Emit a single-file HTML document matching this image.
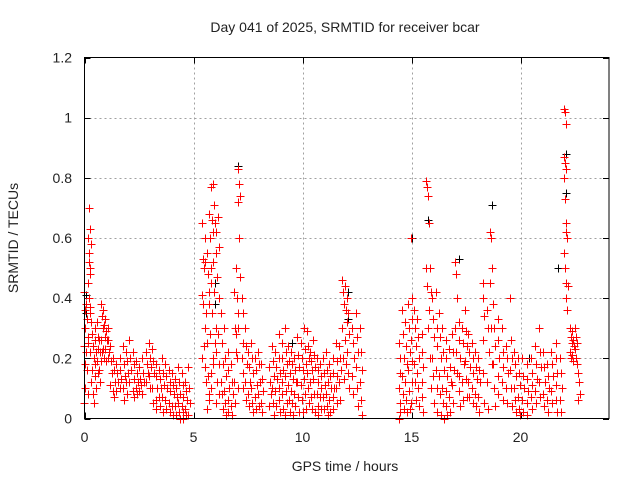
<!DOCTYPE html>
<html><head><meta charset="utf-8"><style>
html,body{margin:0;padding:0;background:#fff;}
svg{display:block;font-family:"Liberation Sans",Arial,sans-serif;}
</style></head><body>
<svg id="chart" width="640" height="480" viewBox="0 0 640 480" xmlns="http://www.w3.org/2000/svg">
<rect width="640" height="480" fill="#fff"/>
<text x="345" y="32" font-size="14" text-anchor="middle" fill="#222">Day 041 of 2025, SRMTID for receiver bcar</text>
<text transform="translate(18,238) rotate(-90)" font-size="14" text-anchor="middle" fill="#222">SRMTID / TECUs</text>
<text x="345" y="471" font-size="14" text-anchor="middle" fill="#222">GPS time / hours</text>
<g id="grid"></g>
<g id="ticks"></g>
<g id="black"></g>
<g id="red"></g>
<rect x="84.5" y="57.5" width="524.5" height="361" fill="none" stroke="#000" stroke-width="1"/>
</svg>
<script>
const xTicks = [0,5,10,15,20];
const yTicks = [0,0.2,0.4,0.6,0.8,1,1.2];
const yTickLabels = ["0","0.2","0.4","0.6","0.8","1","1.2"];
const redTimes = [0.0,0.1,0.2,0.25,0.3,0.4,0.5,0.6,0.7,0.8,0.9,1.0,1.1,1.2,1.35,1.5,1.65,1.8,1.95,2.1,2.25,2.4,2.55,2.7,2.85,3.0,3.15,3.3,3.45,3.6,3.75,3.9,4.05,4.2,4.35,4.5,4.65,4.8,
5.45,5.55,5.65,5.75,5.85,5.95,6.05,6.15,6.3,6.45,6.6,6.75,6.9,7.0,7.1,7.25,7.4,7.55,7.7,7.85,8.0,8.15,
8.5,8.65,8.79,8.94,9.08,9.23,9.37,9.52,9.67,9.81,9.96,10.1,10.25,10.4,10.54,10.69,10.83,10.98,11.12,11.27,11.42,11.56,11.71,11.85,12.0,12.1,12.3,12.5,12.7,
14.45,14.6,14.75,14.9,15.0,15.15,15.3,15.5,15.7,
15.85,16.0,16.15,16.3,16.45,16.6,16.75,16.9,17.05,17.2,17.35,17.5,17.65,17.8,17.95,18.1,18.3,18.5,18.65,
18.8,18.99,19.18,19.37,19.56,19.75,19.94,20.13,20.32,20.51,20.7,20.89,21.08,21.27,21.46,21.65,21.85,
22.05,22.15,22.3,22.4,22.55,22.7];
const redValues = [
[0.42,0.36,0.3,0.24,0.18,0.1,0.05],[0.38,0.33,0.27,0.22,0.16,0.08],[0.6,0.55,0.5,0.45,0.4,0.35,0.25],[0.7,0.63,0.58,0.52,0.37],[0.48,0.32,0.28,0.22,0.12],
[0.28,0.24,0.2,0.16,0.08,0.05],[0.3,0.26,0.22,0.18,0.14,0.1],[0.32,0.27,0.23,0.19,0.15],[0.26,0.22,0.19,0.16,0.12],[0.38,0.34,0.3,0.26,0.22],
[0.36,0.31,0.27,0.23,0.2],[0.33,0.29,0.26,0.23,0.19],[0.3,0.26,0.22,0.2],[0.24,0.19,0.15,0.11],[0.2,0.16,0.12,0.09,0.07],
[0.18,0.15,0.12,0.09],[0.2,0.16,0.13,0.1],[0.24,0.18,0.14,0.1,0.06],[0.22,0.19,0.15,0.12,0.08],[0.26,0.2,0.16,0.12],
[0.22,0.18,0.13,0.09,0.07],[0.19,0.15,0.12,0.1,0.08],[0.17,0.13,0.11,0.09],[0.2,0.15,0.12,0.08],[0.22,0.18,0.15,0.12],
[0.25,0.2,0.17,0.14,0.1],[0.23,0.19,0.15,0.1,0.05],[0.18,0.14,0.1,0.06,0.03],[0.16,0.13,0.1,0.07,0.04],[0.2,0.15,0.11,0.07,0.02],
[0.18,0.14,0.1,0.06,0.03],[0.16,0.12,0.09,0.05,0.02],[0.15,0.11,0.08,0.04,0.01],[0.13,0.1,0.07,0.04,0.01],[0.17,0.12,0.08,0.05,0.02,0.0],
[0.15,0.11,0.07,0.04,0.02,0.0],[0.12,0.09,0.06,0.03,0.01],[0.17,0.1,0.05,0.01],
[0.65,0.53,0.5,0.41,0.38,0.24,0.2],[0.6,0.52,0.35,0.3,0.17,0.12],[0.55,0.48,0.42,0.25,0.14,0.06,0.03],[0.68,0.6,0.5,0.38,0.28,0.15,0.08],
[0.77,0.66,0.62,0.45,0.35,0.2,0.1],[0.78,0.71,0.65,0.52,0.42,0.25,0.18],[0.62,0.55,0.47,0.3,0.22,0.12,0.05],[0.67,0.57,0.4,0.28,0.18,0.08],
[0.35,0.25,0.18,0.12,0.08,0.03],[0.3,0.2,0.14,0.09,0.05,0.01],[0.22,0.16,0.1,0.06,0.02],[0.18,0.12,0.08,0.04,0.01],[0.42,0.3,0.22,0.12,0.05],
[0.5,0.4,0.35,0.28,0.2,0.1],[0.83,0.78,0.74,0.72,0.6,0.47,0.3],[0.4,0.35,0.25,0.2,0.15,0.1],[0.3,0.24,0.18,0.12,0.06],[0.22,0.17,0.12,0.08,0.04],
[0.25,0.2,0.15,0.1,0.05,0.02],[0.2,0.16,0.11,0.07,0.03],[0.22,0.18,0.12,0.08,0.04],[0.18,0.13,0.09,0.05,0.02],
[0.17,0.12,0.08,0.04],[0.24,0.19,0.14,0.1,0.05,0.01],[0.22,0.17,0.13,0.09,0.04],[0.28,0.2,0.15,0.1,0.06,0.02],[0.25,0.2,0.16,0.12,0.08,0.03],
[0.3,0.22,0.18,0.14,0.09,0.05,0.01],[0.24,0.19,0.15,0.11,0.06,0.02],[0.22,0.18,0.13,0.09,0.05,0.01],[0.2,0.16,0.12,0.08,0.04],[0.27,0.21,0.17,0.12,0.07,0.02],
[0.25,0.2,0.16,0.11,0.06,0.02],[0.3,0.23,0.18,0.13,0.08,0.03],[0.29,0.24,0.2,0.15,0.1,0.05],[0.22,0.19,0.16,0.12,0.07,0.03],[0.26,0.21,0.17,0.13,0.08,0.02],
[0.2,0.16,0.12,0.08,0.04,0.01],[0.18,0.14,0.1,0.07,0.03],[0.2,0.15,0.11,0.07,0.03],[0.22,0.16,0.12,0.08,0.04,0.01],[0.18,0.14,0.1,0.06,0.02],
[0.2,0.15,0.1,0.07,0.03],[0.25,0.19,0.14,0.1,0.05],[0.24,0.2,0.16,0.12,0.06],[0.46,0.42,0.38,0.3,0.2,0.13],[0.44,0.36,0.32,0.26,0.18],
[0.4,0.35,0.28,0.22,0.15,0.1],[0.3,0.25,0.2,0.14,0.08],[0.35,0.27,0.22,0.17,0.1,0.04],[0.3,0.22,0.16,0.12,0.06,0.01],
[0.25,0.2,0.15,0.1,0.05,0.02,0.0],[0.36,0.28,0.2,0.14,0.08,0.03],[0.32,0.24,0.18,0.12,0.06,0.02],[0.38,0.3,0.22,0.16,0.09,0.03],[0.6,0.4,0.33,0.26,0.19,0.12,0.05],
[0.36,0.3,0.24,0.18,0.12,0.06],[0.33,0.27,0.2,0.15,0.1,0.04],[0.28,0.22,0.17,0.12,0.07,0.02],[0.79,0.77,0.74,0.5,0.44,0.3],[0.65,0.5,0.42,0.36,0.2,0.1],
[0.4,0.33,0.27,0.2,0.14,0.05],[0.42,0.3,0.24,0.16,0.1,0.02],[0.35,0.27,0.2,0.14,0.08,0.01],[0.3,0.22,0.16,0.1,0.05,0.0],[0.26,0.2,0.14,0.09,0.04,0.01],
[0.23,0.17,0.12,0.07,0.02],[0.28,0.22,0.16,0.11,0.05],[0.52,0.48,0.4,0.3,0.22,0.15],[0.32,0.26,0.2,0.14,0.09,0.04],[0.3,0.25,0.18,0.12,0.06],
[0.36,0.29,0.24,0.19,0.13,0.07],[0.28,0.22,0.17,0.12,0.07],[0.25,0.2,0.15,0.1,0.05],[0.22,0.17,0.13,0.08,0.04],[0.2,0.16,0.12,0.07,0.02],
[0.45,0.4,0.34,0.26,0.15,0.05],[0.36,0.3,0.22,0.12,0.03],[0.62,0.6,0.5,0.45,0.3,0.18],[0.38,0.3,0.24,0.18,0.1,0.04],[0.33,0.26,0.2,0.14,0.08],
[0.3,0.22,0.17,0.12,0.06],[0.24,0.2,0.15,0.1,0.05],[0.4,0.26,0.2,0.16,0.1,0.04],[0.22,0.18,0.14,0.1,0.06,0.02],[0.2,0.15,0.11,0.07,0.03,0.01],
[0.2,0.14,0.1,0.06,0.02],[0.18,0.13,0.09,0.05,0.01],[0.2,0.15,0.11,0.07,0.03],[0.24,0.18,0.13,0.09,0.05],[0.3,0.22,0.17,0.12,0.07],
[0.22,0.17,0.12,0.08,0.04],[0.18,0.14,0.1,0.06,0.02],[0.22,0.18,0.14,0.09,0.05],[0.25,0.2,0.15,0.11,0.06,0.02],[0.2,0.15,0.1,0.06,0.02],
[1.03,1.02,0.98,0.87,0.85,0.83,0.8,0.73,0.62,0.55,0.5,0.45],[0.65,0.6,0.44,0.4,0.36],[0.3,0.27,0.25,0.22,0.2],[0.29,0.26,0.24,0.21,0.19],[0.3,0.27,0.25,0.23,0.2,0.18],
[0.15,0.12,0.08,0.06]
];
const blackTimes = [0.05,6.0,7.05,12.1,15.0,15.75,17.2,18.7,21.7,22.1,20.4,9.5];
const blackValues = [[0.41,0.35],[0.45,0.38],[0.84,0.72],[0.42,0.33],[0.6],[0.66],[0.53],[0.71],[0.5],[0.88,0.75],[0.2],[0.25]];

const X0=84.5, XS=21.8, Y0=418.5, YS=300.8;
const xPos = h => X0 + h*XS;
const yPos = v => Y0 - v*YS;
const NS="http://www.w3.org/2000/svg";
const grid=document.getElementById('grid'), ticks=document.getElementById('ticks');
function line(parent,x1,y1,x2,y2,stroke,dash){
  const l=document.createElementNS(NS,'line');
  l.setAttribute('x1',x1);l.setAttribute('y1',y1);l.setAttribute('x2',x2);l.setAttribute('y2',y2);
  l.setAttribute('stroke',stroke);l.setAttribute('stroke-width','1');
  if(dash) l.setAttribute('stroke-dasharray',dash);
  parent.appendChild(l);return l;
}
function text(parent,x,y,s,anchor){
  const t=document.createElementNS(NS,'text');
  t.setAttribute('x',x);t.setAttribute('y',y);t.setAttribute('font-size','14');
  t.setAttribute('text-anchor',anchor);t.setAttribute('fill','#222');t.textContent=s;
  parent.appendChild(t);return t;
}
xTicks.forEach(h=>{
  const x=Math.round(xPos(h))+0.5;
  if(h>0){const g=line(grid,x,57.5,x,418.5,'#a0a0a0','2,3');
  
  }
  line(ticks,x,418.5,x,412.5,'#000');line(ticks,x,57.5,x,63.5,'#000');
  const t=text(ticks,xPos(h),442,String(h),'middle');
  
  
});
yTicks.forEach((v,i)=>{
  const y=Math.round(yPos(v))+0.5;
  if(v>0&&v<1.2){const g=line(grid,84.5,y,609,y,'#a0a0a0','2,3');
  
  }
  line(ticks,84.5,y,90.5,y,'#000');line(ticks,609,y,603,y,'#000');
  const t=text(ticks,72,yPos(v)+5,yTickLabels[i],'end');
  
  
});
function plus(parent,h,v,color){
  const x=Math.round(xPos(h))+0.5, y=Math.round(yPos(Math.max(0,v)))+0.5;
  const p=document.createElementNS(NS,'path');
  p.setAttribute('d',`M${x-4} ${y}H${x+4}M${x} ${y-4}V${y+4}`);
  p.setAttribute('stroke',color);p.setAttribute('stroke-width','1');p.setAttribute('fill','none');
  
  
  parent.appendChild(p);
}
const blackG=document.getElementById('black'), redG=document.getElementById('red');
blackTimes.forEach((h,i)=>blackValues[i].forEach(v=>plus(blackG,h,v,'#000')));
redTimes.forEach((h,i)=>(redValues[i]||[]).forEach((v,j)=>{
  plus(redG,h+((j%3)-1)*0.04,v,'#ff0000');
}));
</script>
</body></html>
